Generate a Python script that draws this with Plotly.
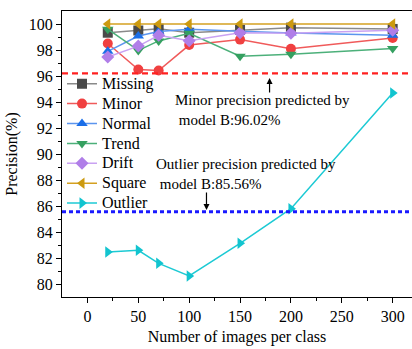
import plotly.graph_objects as go

x_vals = [20, 50, 70, 100, 150, 200, 300]
missing = [99.33, 99.5, 99.64, 99.33, 99.55, 99.72, 99.62]
minor = [98.5, 96.5, 96.42, 98.38, 98.8, 98.1, 98.92]
normal = [97.9, 99.08, 99.42, 99.6, 99.45, 99.3, 99.13]
trend = [99.6, 97.97, 98.7, 99.28, 97.52, 97.68, 98.12]
drift = [97.46, 98.3, 99.13, 98.72, 99.33, 99.28, 99.52]
square = [100, 100, 100, 100, 100, 100, 100]
outlier = [82.46, 82.59, 81.59, 80.62, 83.13, 85.79, 94.7]

minor_ref = 96.2
outlier_ref = 85.56

series = [
    ("Missing", missing, "#8a8a8a", "#4a4a4a", "square"),
    ("Minor", minor, "#f05a5a", "#f04040", "circle"),
    ("Normal", normal, "#5b95ee", "#1a6ee8", "triangle-up"),
    ("Trend", trend, "#4cb07a", "#35a060", "triangle-down"),
    ("Drift", drift, "#c9a2f2", "#b07ee8", "diamond"),
    ("Square", square, "#d4a020", "#cc9a10", "triangle-left"),
    ("Outlier", outlier, "#1ccad4", "#12c4cf", "triangle-right"),
]

fig = go.Figure()
for name, vals, lc, mc, sym in series:
    fig.add_trace(go.Scatter(
        x=x_vals, y=vals, name='<span style="font-size:16px">' + name + '</span>',
        mode="lines+markers",
        line=dict(color=lc, width=1.5),
        marker=dict(color=mc, symbol=sym, size=10),
    ))

font_family = "Liberation Serif, Times New Roman, serif"

fig.add_shape(type="line", xref="paper", x0=0, x1=1, yref="y", y0=minor_ref, y1=minor_ref,
              line=dict(color="#ff2020", width=2.2, dash="6px,4px"))
fig.add_shape(type="line", xref="paper", x0=0, x1=1, yref="y", y0=outlier_ref, y1=outlier_ref,
              line=dict(color="#1a1aff", width=3, dash="4px,3px"))

ann_font = dict(family=font_family, size=15, color="black")
fig.add_annotation(x=84, y=93.35, text="Minor precision predicted by<br> model B:96.02%",
                   showarrow=False, xanchor="left", yanchor="middle", align="left", font=ann_font)
fig.add_annotation(x=65, y=88.5, text="Outlier precision predicted by<br> model B:85.56%",
                   showarrow=False, xanchor="left", yanchor="middle", align="left", font=ann_font)
fig.add_annotation(x=179, y=95.85, ax=0, ay=16, text="", showarrow=True,
                   arrowhead=2, arrowsize=1, arrowwidth=1.2, arrowcolor="black")
fig.add_annotation(x=117, y=85.7, ax=0, ay=-19, text="", showarrow=True,
                   arrowhead=2, arrowsize=1, arrowwidth=1.2, arrowcolor="black")

fig.update_layout(
    width=412, height=349,
    margin=dict(l=62, r=0, t=11, b=52),
    paper_bgcolor="white", plot_bgcolor="white",
    font=dict(family=font_family, size=16, color="black"),
    showlegend=True,
    legend=dict(x=0, y=0.798, xanchor="left", yanchor="top", bgcolor="rgba(0,0,0,0)",
                font=dict(size=13), tracegroupgap=0, itemwidth=30),
    xaxis=dict(range=[-25, 319], tickvals=[0, 50, 100, 150, 200, 250, 300],
               showline=True, linecolor="black", linewidth=1.2, mirror=True,
               ticks="outside", ticklen=5, tickcolor="black", showgrid=False, zeroline=False,
               minor=dict(tickvals=[25, 75, 125, 175, 225, 275], ticks="outside", ticklen=3, tickcolor="black"),
               title=dict(text="Number of images per class", font=dict(size=16), standoff=6)),
    yaxis=dict(range=[79, 101], tickvals=list(range(80, 101, 2)),
               showline=True, linecolor="black", linewidth=1.2,
               ticks="outside", ticklen=5, tickcolor="black", showgrid=False, zeroline=False,
               minor=dict(tickvals=list(range(81, 101, 2)), ticks="outside", ticklen=3, tickcolor="black"),
               title=dict(text="Precision(%)", font=dict(size=16), standoff=7)),
)

fig.write_html("out.html")
